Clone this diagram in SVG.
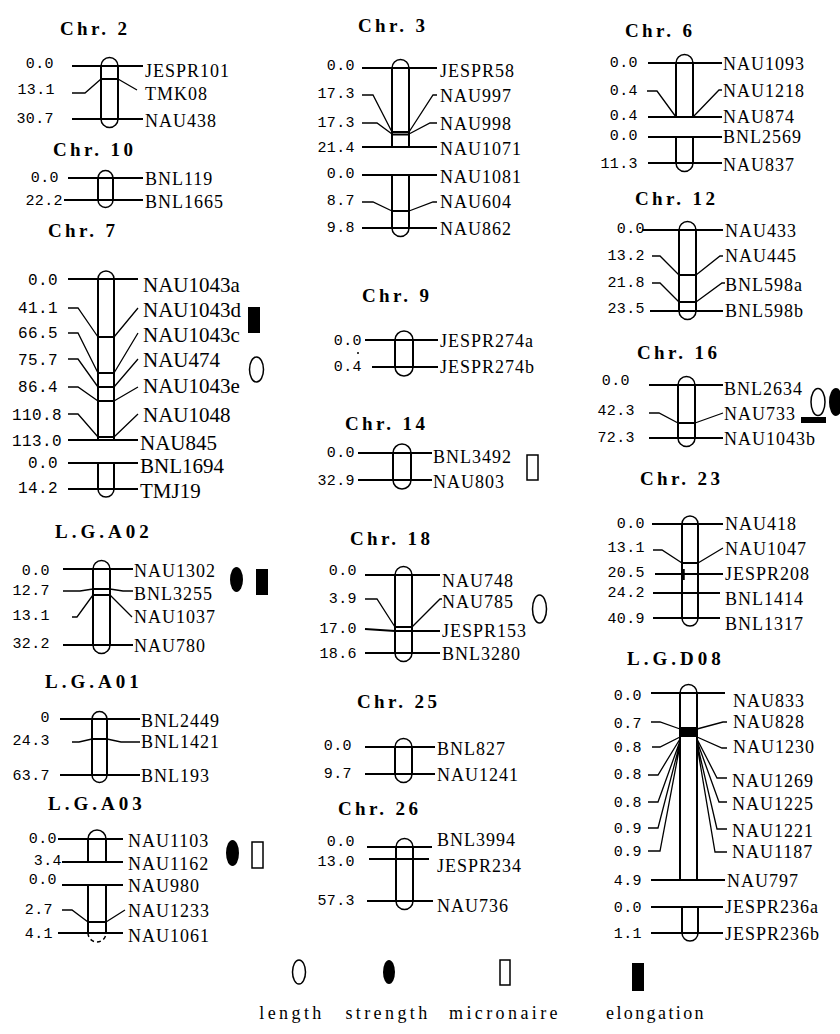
<svg xmlns="http://www.w3.org/2000/svg" width="840" height="1034" viewBox="0 0 840 1034">
<style>
.t{font-family:"Liberation Serif",serif;font-weight:bold;font-size:19px;letter-spacing:3.4px}
.tl{letter-spacing:4px}
.n{font-family:"Liberation Mono",monospace;font-size:15px;letter-spacing:0.4px;text-anchor:end}
.n7{font-size:16px}
.m{font-family:"Liberation Serif",serif;font-size:18px;letter-spacing:1px}
.m7{font-size:21px;letter-spacing:0}
.lg{font-family:"Liberation Serif",serif;font-size:18px;letter-spacing:3.4px;text-anchor:middle}
.ln{stroke:#000;stroke-width:2;fill:none}
.ld{stroke:#000;stroke-width:1.3;fill:none}
.cap{stroke:#000;stroke-width:1.5;fill:none}
.bar{stroke:#000;stroke-width:2;fill:none}
.o{fill:none;stroke:#000;stroke-width:1.5}
.f{fill:#000}
</style>
<rect width="840" height="1034" fill="#fff"/>

<g id="chr2">
<text class="t" x="60" y="35">Chr. 2</text>
<path class="cap" d="M101,66 A8.5,8.5 0 0 1 118,66 M101,119 A8.5,8.5 0 0 0 118,119"/>
<path class="bar" d="M101,66 V119 M118,66 V119"/>
<path class="ln" d="M72,66 H143 M72,119 H143 M101,79 H118"/>
<g class="connectors"><path class="ld" d="M72,93 H85 L101,79 M118,79 L137,90"/></g>
<text class="n" x="54" y="68">0.0</text><text class="n" x="55" y="94">13.1</text><text class="n" x="54" y="123">30.7</text>
<text class="m" x="145" y="77">JESPR101</text><text class="m" x="145" y="100">TMK08</text><text class="m" x="145" y="127">NAU438</text>
</g>

<g id="chr10">
<text class="t" x="53" y="156">Chr. 10</text>
<path class="cap" d="M98,178 A7.5,7.5 0 0 1 113,178 M98,200 A7.5,7.5 0 0 0 113,200"/>
<path class="bar" d="M98,178 V200 M113,178 V200"/>
<path class="ln" d="M68,178 H143 M64,200 H143"/>
<text class="n" x="59" y="182">0.0</text><text class="n" x="63" y="205">22.2</text>
<text class="m" x="145" y="185">BNL119</text><text class="m" x="145" y="208">BNL1665</text>
</g>

<g id="chr7">
<text class="t" x="48" y="237">Chr. 7</text>
<path class="cap" d="M98,279 A8,8 0 0 1 114,279 M98,489 A8,8 0 0 0 114,489"/>
<path class="bar" d="M98,279 V440 M114,279 V440 M98,463 V489 M114,463 V489"/>
<path class="ln" d="M68,279 H138 M68,440 H138 M68,463 H138 M68,489 H138 M98,337 H114 M98,373 H114 M98,387 H114 M98,401 H114 M98,437 H114"/>
<g class="connectors"><path class="ld" d="M68,308 H78 L98,337 M68,333 H78 L98,373 M68,359 H78 L98,387 M68,387 H78 L98,401 M68,414 H78 L98,437 M114,337 L138,308 M114,373 L138,333 M114,387 L138,359 M114,401 L138,387 M114,437 L138,414"/></g>
<text class="n n7" x="58" y="285">0.0</text><text class="n n7" x="58" y="313">41.1</text><text class="n n7" x="58" y="338">66.5</text><text class="n n7" x="58" y="365">75.7</text><text class="n n7" x="58" y="392">86.4</text><text class="n n7" x="62" y="420">110.8</text><text class="n n7" x="62" y="446">113.0</text><text class="n n7" x="58" y="468">0.0</text><text class="n n7" x="58" y="493">14.2</text>
<text class="m m7" x="143" y="292">NAU1043a</text><text class="m m7" x="143" y="317">NAU1043d</text><text class="m m7" x="143" y="342">NAU1043c</text><text class="m m7" x="143" y="367">NAU474</text><text class="m m7" x="143" y="393">NAU1043e</text><text class="m m7" x="143" y="422">NAU1048</text><text class="m m7" x="140" y="450">NAU845</text><text class="m m7" x="140" y="473">BNL1694</text><text class="m m7" x="140" y="498">TMJ19</text>
<rect class="f" x="248" y="307" width="12" height="26"/>
<ellipse class="o" cx="256.5" cy="369.5" rx="7" ry="12.5"/>
</g>

<g id="lgA02">
<text class="t tl" x="55" y="538">L.G.A02</text>
<path class="cap" d="M93,569 A8.5,8.5 0 0 1 110,569 M93,645 A8.5,8.5 0 0 0 110,645"/>
<path class="bar" d="M93,569 V645 M110,569 V645"/>
<path class="ln" d="M63,569 H133 M63,645 H133 M93,589 H110 M93,595 H110"/>
<g class="connectors"><path class="ld" d="M63,591 H80 L93,589 M110,589 L123,591 H133 M72,617 H77 L93,595 M110,595 L132,617"/></g>
<text class="n" x="50" y="575">0.0</text><text class="n" x="50" y="595">12.7</text><text class="n" x="50" y="620">13.1</text><text class="n" x="50" y="648">32.2</text>
<text class="m" x="134" y="577">NAU1302</text><text class="m" x="134" y="600">BNL3255</text><text class="m" x="134" y="623">NAU1037</text><text class="m" x="134" y="652">NAU780</text>
<ellipse class="f" cx="236.5" cy="579.5" rx="6.5" ry="12.5"/>
<rect class="f" x="256" y="569" width="12" height="26"/>
</g>

<g id="lgA01">
<text class="t tl" x="45" y="688">L.G.A01</text>
<path class="cap" d="M92,719 A7.5,7.5 0 0 1 107,719 M92,775 A7.5,7.5 0 0 0 107,775"/>
<path class="bar" d="M92,719 V775 M107,719 V775"/>
<path class="ln" d="M60,719 H140 M60,775 H140 M92,739 H107"/>
<g class="connectors"><path class="ld" d="M72,742 H79 L92,739 M107,739 L121,742 H140"/></g>
<text class="n" x="50" y="722">0</text><text class="n" x="50" y="745">24.3</text><text class="n" x="50" y="780">63.7</text>
<text class="m" x="141" y="727">BNL2449</text><text class="m" x="141" y="748">BNL1421</text><text class="m" x="141" y="782">BNL193</text>
</g>

<g id="lgA03">
<text class="t tl" x="48" y="810">L.G.A03</text>
<path class="cap" d="M88,839 A9,9 0 0 1 106,839"/>
<path class="cap" stroke-dasharray="4 3" d="M88,933 A9,9 0 0 0 106,933"/>
<path class="bar" d="M88,839 V862 M106,839 V862 M88,885 V933 M106,885 V933"/>
<path class="ln" d="M58,839 H123 M62,862 H123 M62,885 H123 M58,933 H123 M88,922 H106"/>
<g class="connectors"><path class="ld" d="M62,910 H72 L88,922 M106,922 L125,910"/></g>
<text class="n" x="57" y="843">0.0</text><text class="n" x="62" y="865">3.4</text><text class="n" x="57" y="884">0.0</text><text class="n" x="53" y="914">2.7</text><text class="n" x="53" y="938">4.1</text>
<text class="m" x="128" y="847">NAU1103</text><text class="m" x="128" y="870">NAU1162</text><text class="m" x="128" y="892">NAU980</text><text class="m" x="128" y="917">NAU1233</text><text class="m" x="128" y="942">NAU1061</text>
<ellipse class="f" cx="232.5" cy="853" rx="6.5" ry="13"/>
<rect class="o" x="252" y="842" width="11" height="26"/>
</g>

<g id="chr3">
<text class="t" x="358" y="32">Chr. 3</text>
<path class="cap" d="M392,68 A8.5,8.5 0 0 1 409,68 M392,228 A8.5,8.5 0 0 0 409,228"/>
<path class="bar" d="M392,68 V147 M409,68 V147 M392,175 V228 M409,175 V228"/>
<path class="ln" d="M362,68 H437 M362,147 H437 M362,175 H437 M362,228 H437 M392,132 H409 M392,134.5 H409 M392,211 H409"/>
<g class="connectors"><path class="ld" d="M362,95 H373 L392,132 M409,132 L433,95 H437 M362,123 H377 L392,134 M409,134 L430,123 H437 M362,202 H373 L392,211 M409,211 L433,202 H437"/></g>
<text class="n" x="355" y="70">0.0</text><text class="n" x="355" y="98">17.3</text><text class="n" x="355" y="127">17.3</text><text class="n" x="355" y="152">21.4</text><text class="n" x="355" y="178">0.0</text><text class="n" x="355" y="205">8.7</text><text class="n" x="355" y="232">9.8</text>
<text class="m" x="440" y="77">JESPR58</text><text class="m" x="440" y="102">NAU997</text><text class="m" x="440" y="130">NAU998</text><text class="m" x="440" y="155">NAU1071</text><text class="m" x="440" y="183">NAU1081</text><text class="m" x="440" y="208">NAU604</text><text class="m" x="440" y="235">NAU862</text>
</g>

<g id="chr9">
<text class="t" x="362" y="302">Chr. 9</text>
<path class="cap" d="M395,340 A9,9 0 0 1 413,340 M395,367 A9,9 0 0 0 413,367"/>
<path class="bar" d="M395,340 V367 M413,340 V367"/>
<path class="ln" d="M365,340 H438 M372,367 H438"/>
<circle class="f" cx="358" cy="353" r="1"/>
<text class="n" x="362" y="345">0.0</text><text class="n" x="362" y="371">0.4</text>
<text class="m" x="440" y="347">JESPR274a</text><text class="m" x="440" y="373">JESPR274b</text>
</g>

<g id="chr14">
<text class="t" x="345" y="430">Chr. 14</text>
<path class="cap" d="M393,453 A9,9 0 0 1 411,453 M393,480 A9,9 0 0 0 411,480"/>
<path class="bar" d="M393,453 V480 M411,453 V480"/>
<path class="ln" d="M358,453 H432 M358,480 H432"/>
<text class="n" x="355" y="457">0.0</text><text class="n" x="355" y="485">32.9</text>
<text class="m" x="433" y="463">BNL3492</text><text class="m" x="433" y="488">NAU803</text>
<rect class="o" x="527" y="455" width="11" height="25"/>
</g>

<g id="chr18">
<text class="t" x="350" y="545">Chr. 18</text>
<path class="cap" d="M395,575 A8.5,8.5 0 0 1 412,575 M395,653 A8.5,8.5 0 0 0 412,653"/>
<path class="bar" d="M395,575 V653 M412,575 V653"/>
<path class="ln" d="M365,575 H440 M365,653 H440 M395,627 H412"/>
<g class="connectors"><path class="ld" d="M365,599 H377 L395,627 M412,627 L440,599 H442"/><path class="ln" d="M365,629 L395,631 H440"/></g>
<text class="n" x="357" y="575">0.0</text><text class="n" x="357" y="603">3.9</text><text class="n" x="357" y="633">17.0</text><text class="n" x="357" y="658">18.6</text>
<text class="m" x="442" y="587">NAU748</text><text class="m" x="442" y="608">NAU785</text><text class="m" x="442" y="637">JESPR153</text><text class="m" x="442" y="660">BNL3280</text>
<ellipse class="o" cx="539.5" cy="609" rx="7" ry="14"/>
</g>

<g id="chr25">
<text class="t" x="357" y="708">Chr. 25</text>
<path class="cap" d="M395,747 A8.5,8.5 0 0 1 412,747 M395,774 A8.5,8.5 0 0 0 412,774"/>
<path class="bar" d="M395,747 V774 M412,747 V774"/>
<path class="ln" d="M365,747 H435 M365,774 H435"/>
<text class="n" x="352" y="750">0.0</text><text class="n" x="352" y="778">9.7</text>
<text class="m" x="437" y="755">BNL827</text><text class="m" x="437" y="781">NAU1241</text>
</g>

<g id="chr26">
<text class="t" x="338" y="815">Chr. 26</text>
<path class="cap" d="M396,847 A8.5,8.5 0 0 1 413,847 M396,901 A8.5,8.5 0 0 0 413,901"/>
<path class="bar" d="M396,847 V901 M413,847 V901"/>
<path class="ln" d="M367,847 H432 M369,859 H429 M367,901 H433"/>
<text class="n" x="355" y="846">0.0</text><text class="n" x="355" y="866">13.0</text><text class="n" x="355" y="905">57.3</text>
<text class="m" x="437" y="846">BNL3994</text><text class="m" x="437" y="872">JESPR234</text><text class="m" x="437" y="912">NAU736</text>
</g>

<g id="chr6">
<text class="t" x="625" y="37">Chr. 6</text>
<path class="cap" d="M676,63 A8.5,8.5 0 0 1 693,63 M676,163 A8.5,8.5 0 0 0 693,163"/>
<path class="bar" d="M676,63 V117 M693,63 V117 M676,137 V163 M693,137 V163"/>
<path class="ln" d="M648,63 H722 M648,117 H722 M648,137 H722 M648,163 H722"/>
<g class="connectors"><path class="ld" d="M647,91 H657 L676,117 M693,117 L719,90 H722"/></g>
<text class="n" x="638" y="67">0.0</text><text class="n" x="638" y="95">0.4</text><text class="n" x="638" y="120">0.4</text><text class="n" x="638" y="140">0.0</text><text class="n" x="638" y="168">11.3</text>
<text class="m" x="723" y="70">NAU1093</text><text class="m" x="723" y="97">NAU1218</text><text class="m" x="723" y="123">NAU874</text><text class="m" x="723" y="143">BNL2569</text><text class="m" x="723" y="171">NAU837</text>
</g>

<g id="chr12">
<text class="t" x="635" y="205">Chr. 12</text>
<path class="cap" d="M679,230 A8.5,8.5 0 0 1 696,230 M679,311 A8.5,8.5 0 0 0 696,311"/>
<path class="bar" d="M679,230 V311 M696,230 V311"/>
<path class="ln" d="M642,230 H723 M650,311 H723 M679,275 H696 M679,302 H696"/>
<g class="connectors"><path class="ld" d="M652,256 H660 L679,275 M696,275 L720,256 H723 M652,283 H660 L679,302 M696,302 L722,283 H725"/></g>
<text class="n" x="645" y="233">0.0</text><text class="n" x="645" y="260">13.2</text><text class="n" x="645" y="287">21.8</text><text class="n" x="645" y="313">23.5</text>
<text class="m" x="725" y="237">NAU433</text><text class="m" x="725" y="262">NAU445</text><text class="m" x="725" y="291">BNL598a</text><text class="m" x="725" y="317">BNL598b</text>
</g>

<g id="chr16">
<text class="t" x="637" y="359">Chr. 16</text>
<path class="cap" d="M678,385 A8.5,8.5 0 0 1 695,385 M678,438 A8.5,8.5 0 0 0 695,438"/>
<path class="bar" d="M678,385 V438 M695,385 V438"/>
<path class="ln" d="M649,385 H723 M649,438 H723 M678,423 H695"/>
<g class="connectors"><path class="ld" d="M649,413 H659 L678,423 M695,423 L723,413"/></g>
<text class="n" x="630" y="385">0.0</text><text class="n" x="635" y="415">42.3</text><text class="n" x="635" y="442">72.3</text>
<text class="m" x="724" y="395">BNL2634</text><text class="m" x="724" y="420">NAU733</text><text class="m" x="724" y="445">NAU1043b</text>
<ellipse class="o" cx="818" cy="402" rx="7" ry="13.5"/>
<rect class="f" x="801" y="417" width="25" height="6"/>
<ellipse class="f" cx="836" cy="402" rx="7" ry="14"/>
</g>

<g id="chr23">
<text class="t" x="640" y="485">Chr. 23</text>
<path class="cap" d="M682,524 A8,8 0 0 1 698,524 M682,618 A8,8 0 0 0 698,618"/>
<path class="bar" d="M682,524 V618 M698,524 V618"/>
<path class="ln" d="M652,524 H723 M655,574 H723 M653,593 H720 M653,618 H720 M682,563 H698"/>
<g class="connectors"><path class="ld" d="M653,550 H662 L682,563 M698,563 L723,548"/></g>
<path d="M683.5,569 V580" stroke="#000" stroke-width="2.5"/>
<text class="n" x="645" y="528">0.0</text><text class="n" x="645" y="552">13.1</text><text class="n" x="645" y="577">20.5</text><text class="n" x="645" y="597">24.2</text><text class="n" x="645" y="623">40.9</text>
<text class="m" x="725" y="530">NAU418</text><text class="m" x="725" y="555">NAU1047</text><text class="m" x="725" y="580">JESPR208</text><text class="m" x="725" y="605">BNL1414</text><text class="m" x="725" y="630">BNL1317</text>
</g>

<g id="lgD08">
<text class="t tl" x="627" y="665">L.G.D08</text>
<path class="cap" d="M680,693 A8.5,8.5 0 0 1 697,693 M682,933 A8,8 0 0 0 698,933"/>
<path class="bar" d="M680,693 V880 M697,693 V880 M682,907 V933 M698,907 V933"/>
<path class="ln" d="M651,693 H725 M651,880 H725 M651,907 H723 M651,933 H723"/>
<rect class="f" x="680" y="727" width="17" height="10"/>
<g class="connectors"><path class="ld" d="M651,722 H660 L680,729 M652,747 H660 L680,737 M648,775 H658 L680,739 M648,802 H658 L680,741 M648,828 H658 L680,743 M648,851 H660 L680,745 M697,729 L723,722 H727 M697,737 L722,748 H727 M697,739 L717,778 H727 M697,741 L719,802 H727 M697,743 L717,829 H727 M697,745 L715,852 H727"/></g>
<text class="n" x="642" y="700">0.0</text><text class="n" x="642" y="728">0.7</text><text class="n" x="642" y="752">0.8</text><text class="n" x="642" y="779">0.8</text><text class="n" x="642" y="807">0.8</text><text class="n" x="642" y="833">0.9</text><text class="n" x="642" y="856">0.9</text><text class="n" x="642" y="885">4.9</text><text class="n" x="642" y="912">0.0</text><text class="n" x="642" y="938">1.1</text>
<text class="m" x="733" y="707">NAU833</text><text class="m" x="733" y="728">NAU828</text><text class="m" x="733" y="753">NAU1230</text><text class="m" x="732" y="787">NAU1269</text><text class="m" x="732" y="810">NAU1225</text><text class="m" x="732" y="837">NAU1221</text><text class="m" x="732" y="858">NAU1187</text><text class="m" x="727" y="887">NAU797</text><text class="m" x="725" y="913">JESPR236a</text><text class="m" x="725" y="940">JESPR236b</text>
</g>

<g id="legend">
<ellipse class="o" cx="299" cy="972" rx="6.5" ry="12"/>
<ellipse class="f" cx="389" cy="972" rx="6" ry="12"/>
<rect class="o" x="500" y="960" width="10" height="25"/>
<rect class="f" x="632" y="963" width="12" height="28"/>
<text class="lg" x="292" y="1019">length</text>
<text class="lg" x="388" y="1019">strength</text>
<text class="lg" x="505" y="1019">micronaire</text>
<text class="lg" x="656" y="1019" style="letter-spacing:2.4px">elongation</text>
</g>
</svg>
